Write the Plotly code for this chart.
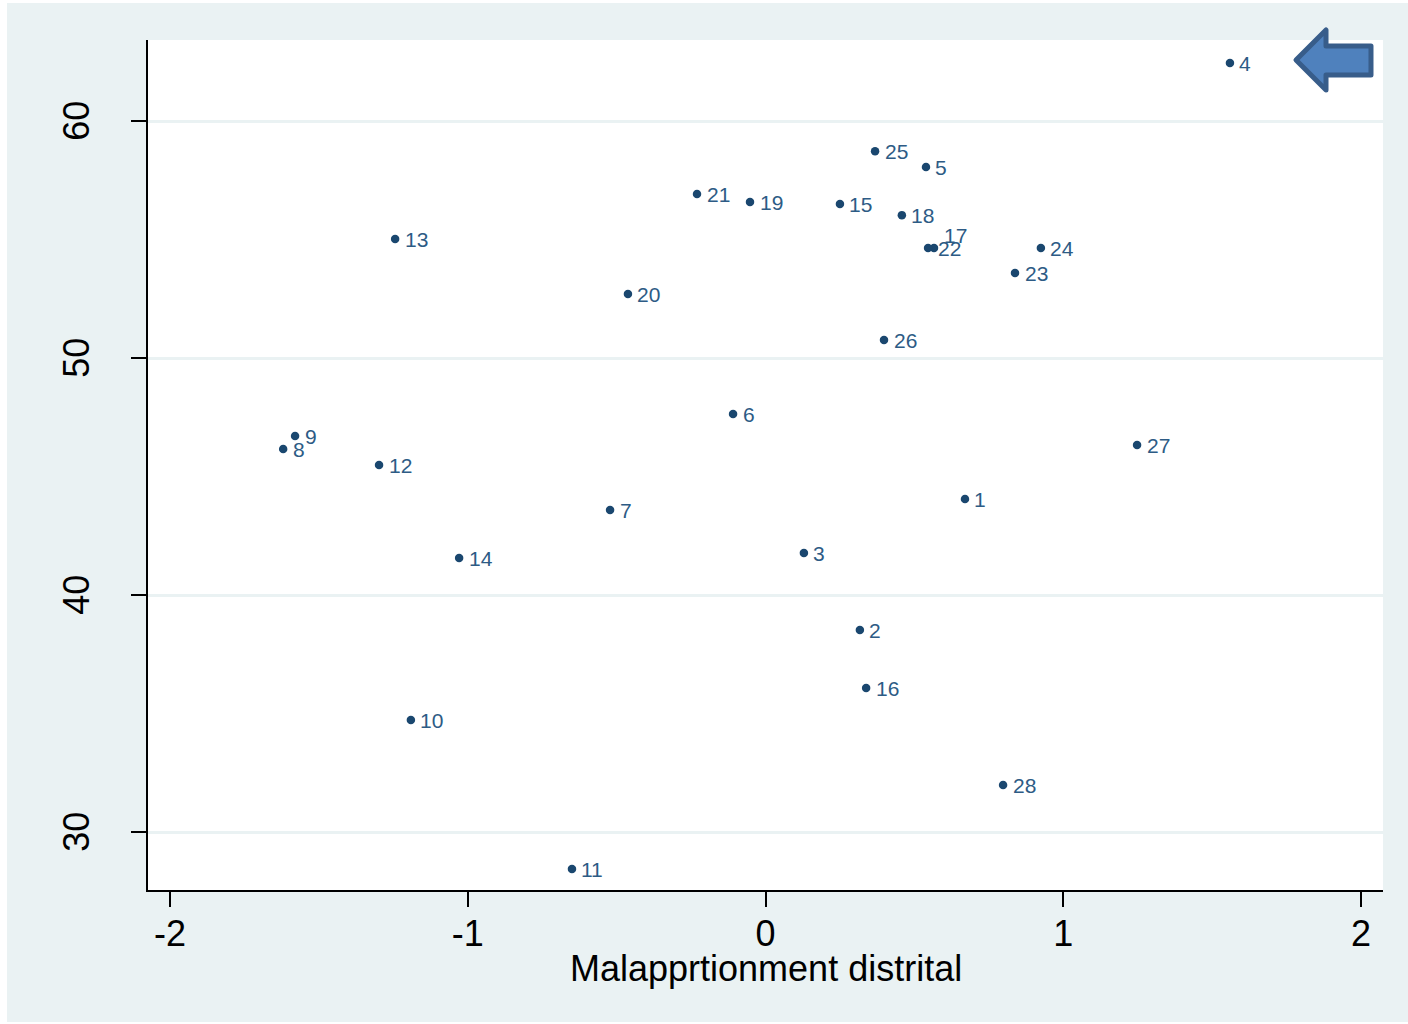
import plotly.graph_objects as go

labels = [str(i) for i in range(1, 29)]
malapportionment = [0.670, 0.317, 0.129, 1.560, 0.539, -0.109, -0.522, -1.620, -1.580, -1.191,
                    -0.650, -1.298, -1.244, -1.029, 0.250, 0.338, 0.566, 0.458, -0.052, -0.462,
                    -0.230, 0.546, 0.838, 0.925, 0.368, 0.398, 1.248, 0.798]
y_values = [44.05, 38.52, 41.77, 62.45, 58.06, 47.64, 43.59, 46.16, 46.71, 34.73,
            28.44, 45.49, 55.02, 41.56, 56.50, 36.08, 54.64, 56.03, 56.58, 52.70,
            56.92, 54.64, 53.59, 54.64, 58.73, 50.76, 46.33, 31.98]
x_ticks = [-2, -1, 0, 1, 2]
x_tick_labels = ["-2", "-1", "0", "1", "2"]
y_ticks = [30, 40, 50, 60]
x_title = "Malapprtionment distrital"

PANEL = "#eaf2f3"
NAVY = "#1a476f"
LABEL = "#2d5b85"
FONT = "Liberation Sans, Arial, sans-serif"

W, H = 1401, 1019
OX, OY = 7, 3
L, R, T, B = 148 - OX, 1383 - OX, 40 - OY, 890 - OY


def px(x):
    return (x - 148) / (1383 - 148)


def py(y):
    return (890 - y) / (890 - 40)


arrow_pts = [(1296, 60), (1326, 30), (1326, 46), (1371, 46), (1371, 75), (1326, 75), (1326, 90)]
arrow_path = "M " + " L ".join(f"{px(a):.5f},{py(b):.5f}" for a, b in arrow_pts) + " Z"

fig = go.Figure(go.Scatter(
    x=malapportionment, y=y_values, mode="markers",
    marker=dict(size=8.5, color=NAVY, line=dict(width=0)),
    cliponaxis=False, showlegend=False, hoverinfo="skip",
))

for xv, yv, s in zip(malapportionment, y_values, labels):
    fig.add_annotation(
        x=xv, y=yv, text=s, showarrow=False, xanchor="left", yanchor="middle",
        xshift=7.5, yshift=13 if s == "17" else -0.5,
        font=dict(family=FONT, size=21, color=LABEL),
    )

fig.add_annotation(
    xref="paper", yref="paper", x=0.5, y=py(968), text=x_title, showarrow=False,
    xanchor="center", yanchor="middle",
    font=dict(family=FONT, size=36, color="black"),
)

axis_common = dict(
    showline=True, linecolor="black", linewidth=1.5, mirror=False,
    ticks="outside", ticklen=15, tickwidth=1.5, tickcolor="black",
    zeroline=False,
)

fig.update_xaxes(
    range=[-2.074, 2.074], tickvals=x_ticks, ticktext=x_tick_labels, showgrid=False,
    tickfont=dict(family=FONT, size=36, color="black"), ticklabelstandoff=-4,
    **axis_common,
)
fig.update_yaxes(
    range=[27.553, 63.42], tickvals=y_ticks, showgrid=True, gridcolor=PANEL, gridwidth=3,
    tickangle=-90, tickfont=dict(family=FONT, size=36, color="black"),
    ticklabelstandoff=28, ticklabelshift=5,
    **axis_common,
)

fig.add_shape(
    type="path", xref="paper", yref="paper", path=arrow_path,
    fillcolor="#4f81bd", line=dict(color="#385d8a", width=5), layer="above",
)

fig.update_layout(
    width=W, height=H, autosize=False,
    margin=dict(l=L, r=W - R, t=T, b=H - B, pad=0),
    paper_bgcolor=PANEL, plot_bgcolor="white",
    font=dict(family=FONT),
)

fig.write_html(
    "out.html",
    post_script=(
        f"document.body.style.margin='{OY}px 0 0 {OX}px';document.body.style.background='white';"
        "document.querySelectorAll('.shapelayer path').forEach(p=>p.style.strokeLinejoin='round');"
    ),
    config={"displayModeBar": False},
)
